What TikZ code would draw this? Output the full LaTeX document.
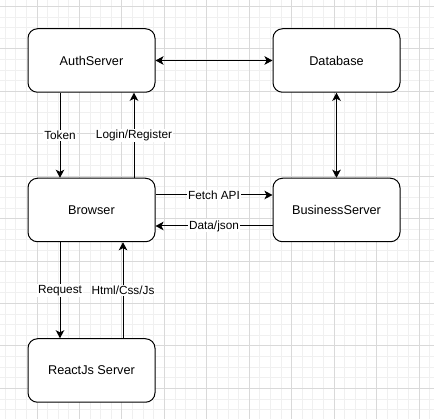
\documentclass[tikz,border=0pt]{standalone}
\usepackage{fontspec}
\setmainfont{Liberation Sans}
\usetikzlibrary{arrows.meta, calc, positioning}

\begin{document}
\begin{tikzpicture}[x=1pt, y=-1pt, node distance=85pt and 117pt, >={Stealth[length=8pt, width=8.5pt, inset=2pt]},
  box/.style={draw, line width=1pt, rounded corners=9.5pt, fill=white, align=center, minimum width=127pt, minimum height=63.5pt, font=\fontsize{12.7}{15}\selectfont},
  lbl/.style={fill=white, inner sep=1pt, font=\fontsize{11.8}{14}\selectfont},
  link/.style={line width=1pt},
  minorline/.style={draw=black!6, line width=0.8pt},
  majorline/.style={draw=black!15, line width=0.8pt}]
\useasboundingbox (0,0) rectangle (434,419);
% grid
\foreach \i in {0,...,40} \draw[minorline] ({5.11+10.6125*\i},0) -- ({5.11+10.6125*\i},419);
\foreach \j in {0,...,38} \draw[minorline] (0,{6.3+10.6125*\j}) -- (434,{6.3+10.6125*\j});
\foreach \i in {0,...,9} \draw[majorline] ({36.95+42.45*\i},0) -- ({36.95+42.45*\i},419);
\foreach \j in {0,...,9} \draw[majorline] (0,{6.3+42.45*\j}) -- (434,{6.3+42.45*\j});

\node[box] (auth) at (91.5,60.5) {AuthServer};
\node[box, right=of auth] (db) {Database};
\node[box, below=of auth] (browser) {Browser};
\node[box, right=of browser] (biz) {BusinessServer};
\node[box, below=96pt of browser] (react) {ReactJs Server};

\draw[link, <->] (auth) -- (db);
\draw[link, <->] (db) -- (biz);
\draw[link, ->] ([xshift=-31.5pt]auth.south) -- node[lbl] {Token} ([xshift=-31.5pt]browser.north);
\draw[link, ->] ([xshift=42.5pt]browser.north) -- node[lbl] {Login/Register} ([xshift=42.5pt]auth.south);
\draw[link, ->] ([yshift=15pt]browser.east) -- node[lbl] {Fetch API} ([yshift=15pt]biz.west);
\draw[link, ->] ([yshift=-16pt]biz.west) -- node[lbl] {Data/json} ([yshift=-16pt]browser.east);
\draw[link, ->] ([xshift=-31.5pt]browser.south) -- node[lbl] {Request} ([xshift=-31.5pt]react.north);
\draw[link, ->] ([xshift=31.5pt]react.north) -- node[lbl] {Html/Css/Js} ([xshift=31.5pt]browser.south);
\end{tikzpicture}
\end{document}
